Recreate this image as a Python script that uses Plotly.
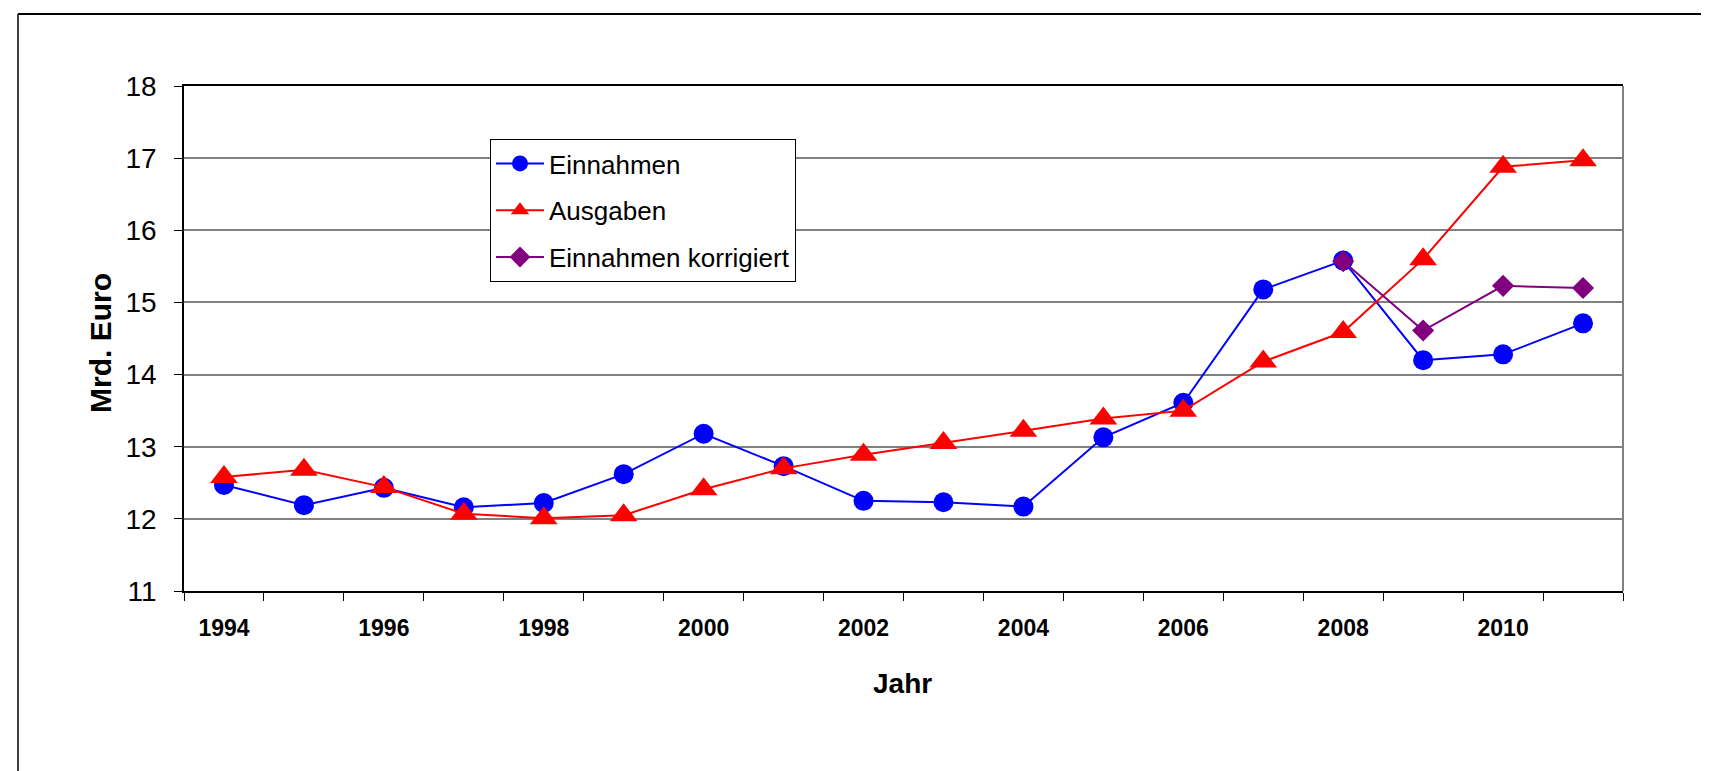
import plotly.graph_objects as go

years = [str(y) for y in range(1994, 2012)]
tick_labels = [y if (int(y) % 2 == 0) else "" for y in years]

einnahmen = [12.47, 12.19, 12.43, 12.16, 12.22, 12.62, 13.18, 12.73, 12.25, 12.23,
             12.17, 13.13, 13.61, 15.18, 15.58, 14.20, 14.28, 14.71]
ausgaben = [12.58, 12.68, 12.44, 12.07, 12.01, 12.05, 12.41, 12.70, 12.89, 13.05,
            13.22, 13.39, 13.50, 14.18, 14.59, 15.60, 16.88, 16.97]
einnahmen_korr = [None] * 14 + [15.57, 14.61, 15.23, 15.20]

FONT = "Liberation Sans, Arial, sans-serif"

fig = go.Figure()
fig.add_trace(go.Scatter(x=years, y=einnahmen, name="Einnahmen", mode="lines+markers",
                         line=dict(color="#0000FF", width=2),
                         marker=dict(symbol="circle", size=20, color="#0000FF")))
fig.add_trace(go.Scatter(x=years, y=ausgaben, name="Ausgaben", mode="lines+markers",
                         line=dict(color="#FF0000", width=2),
                         marker=dict(symbol="triangle-up", size=24, color="#FF0000")))
fig.add_trace(go.Scatter(x=years, y=einnahmen_korr, name="Einnahmen korrigiert", mode="lines+markers",
                         line=dict(color="#800080", width=2),
                         marker=dict(symbol="diamond", size=17, color="#800080")))

L, R, T, B = 176, 1709 - 1615, 78, 771 - 583
W, H = 1709 - L - R, 771 - T - B

def px(xpix):
    return (xpix - L) / W

def py(ypix):
    return (771 - B - ypix) / H

fig.update_layout(
    width=1709, height=771,
    margin=dict(l=L, r=R, t=T, b=B),
    paper_bgcolor="white", plot_bgcolor="white",
    font=dict(family=FONT, color="black"),
    showlegend=True,
    legend=dict(x=px(482), y=py(131), xanchor="left", yanchor="top",
                bgcolor="white", bordercolor="black", borderwidth=1,
                font=dict(size=26, family=FONT), tracegroupgap=10, itemwidth=48),
    xaxis=dict(type="category", tickmode="array", tickvals=years, ticktext=tick_labels,
               tickson="boundaries", ticks="outside", ticklen=8, tickcolor="black",
               showline=True, linecolor="black", linewidth=1.5, mirror=True,
               showgrid=False, zeroline=False, range=[-0.5, 17.5],
               tickfont=dict(size=23, family=FONT, weight="bold"), ticklabelstandoff=16),
    yaxis=dict(range=[11, 18], dtick=1, tick0=11, ticks="outside", ticklen=8, tickcolor="black",
               showline=True, linecolor="black", linewidth=1.5,
               showgrid=True, gridcolor="#808080", gridwidth=1.5, zeroline=False,
               tickfont=dict(size=28, family=FONT), ticklabelstandoff=12),
    annotations=[
        dict(text="<b>Jahr</b>", x=px(894), y=py(675), xref="paper", yref="paper",
             showarrow=False, font=dict(size=28, family=FONT), xanchor="center", yanchor="middle"),
        dict(text="<b>Mrd. Euro</b>", x=px(92), y=py(335), xref="paper", yref="paper",
             showarrow=False, textangle=-90, font=dict(size=30, family=FONT),
             xanchor="center", yanchor="middle"),
    ],
    shapes=[
        dict(type="line", xref="paper", yref="paper", x0=1, x1=1, y0=0, y1=1,
             line=dict(color="#808080", width=2)),
        dict(type="line", xref="paper", yref="paper", x0=px(10), x1=px(1730),
             y0=py(6), y1=py(6), line=dict(color="black", width=2)),
        dict(type="line", xref="paper", yref="paper", x0=px(10), x1=px(10),
             y0=py(6), y1=py(800), line=dict(color="black", width=1.5)),
    ],
)

for i, tr in enumerate(fig.data):
    tr.legendgroup = f"g{i}"

fig.write_html("out.html")
